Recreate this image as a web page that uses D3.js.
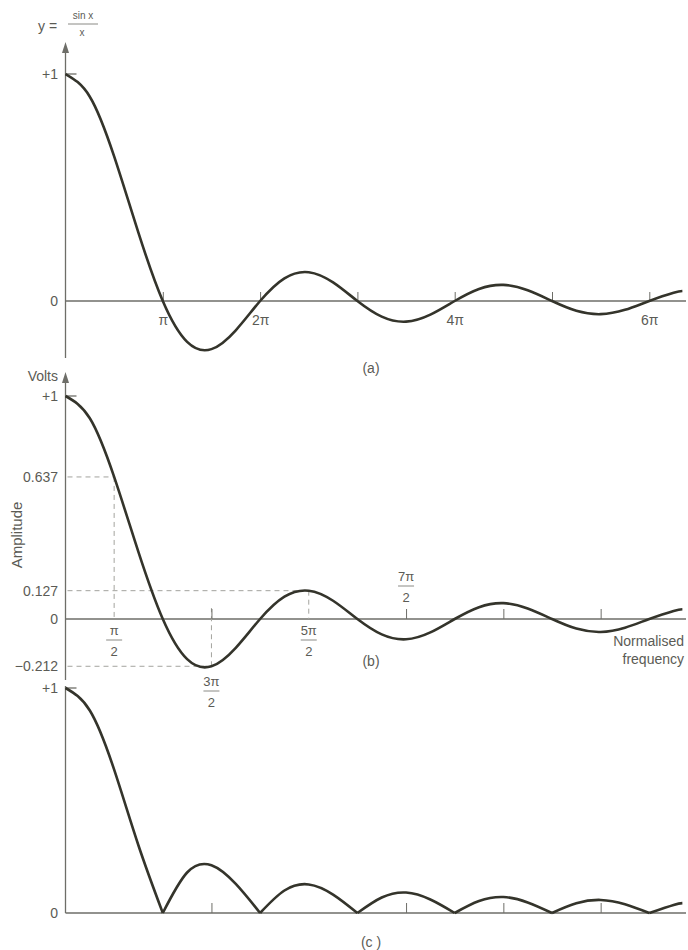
<!DOCTYPE html>
<html lang="en">
<head>
  <meta charset="UTF-8">
  <title>sin x / x</title>
  <script src="https://d3js.org/d3.v7.min.js"></script>
  <style>
    body { margin: 0; background: #fff; }
    svg text { font-family: "Liberation Sans", Arial, Helvetica, sans-serif; fill: #5b5b55; }
    .curve { fill: none; stroke: #34342b; stroke-width: 2.6; stroke-linejoin: round; }
    .axis-line { stroke: #6e6e68; stroke-width: 1.3; }
    .guide { stroke: #a3a39e; stroke-width: 1; stroke-dasharray: 5,4; }
    .tick line { stroke: #6e6e68; stroke-width: 1; }
  </style>
</head>
<body>
  <div id="chart"></div>
  <script>
    // sample positions in units of pi, and the curve values
    const xPi = [0, 0.25, 0.5, 0.75, 1, 1.25, 1.5, 1.75, 2, 2.25, 2.5, 2.75, 3,
                 3.25, 3.5, 3.75, 4, 4.25, 4.5, 4.75, 5, 5.25, 5.5, 5.75, 6, 6.25, 6.34];
    const sinc = [1.0, 0.900, 0.637, 0.300, 0, -0.180, -0.212, -0.129, 0, 0.100, 0.127, 0.082, 0,
                  -0.069, -0.091, -0.060, 0, 0.053, 0.071, 0.047, 0, -0.043, -0.058, -0.039, 0, 0.036, 0.044];
    const magnitude = [1.0, 0.900, 0.637, 0.300, 0, 0.180, 0.212, 0.129, 0, 0.100, 0.127, 0.082, 0,
                       0.069, 0.091, 0.060, 0, 0.053, 0.071, 0.047, 0, 0.043, 0.058, 0.039, 0, 0.036, 0.044];

    // axis ticks
    const piTicks = [1, 2, 3, 4, 5, 6];
    const piLabels = ["π", "2π", "", "4π", "", "6π"];
    const halfTicks = [1.5, 3.5, 4.5, 5.5];
    const yTicksB = [1, 0.637, 0.127, 0, -0.212];
    const yLabelsB = ["+1", "0.637", "0.127", "0", "−0.212"];
    const fracAt = [0.5, 1.5, 2.5, 3.5];
    const fracNum = ["π", "3π", "5π", "7π"];
    const fracDen = ["2", "2", "2", "2"];

    const W = 688, H = 950;
    const svg = d3.select("#chart").append("svg").attr("width", W).attr("height", H);

    const x = d3.scaleLinear().domain([0, 6]).range([65.5, 649.3]);
    const xEnd = 686;

    const pts = xPi.map((v, i) => ({ x: v, y: sinc[i], m: magnitude[i] }));

    function yAxisLine(top, bottom, arrow) {
      svg.append("line").attr("class", "axis-line")
        .attr("x1", x(0)).attr("x2", x(0)).attr("y1", bottom).attr("y2", top + (arrow ? 4 : 0));
      if (arrow) {
        svg.append("path")
          .attr("d", `M${x(0)},${top} L${x(0) - 3.5},${top + 11} L${x(0) + 3.5},${top + 11} Z`)
          .attr("fill", "#6e6e68");
      }
    }
    function xAxisLine(y0) {
      svg.append("line").attr("class", "axis-line")
        .attr("x1", x(0)).attr("x2", xEnd).attr("y1", y0).attr("y2", y0);
    }
    function plusOneTick(yPos) {
      svg.append("line").attr("class", "axis-line")
        .attr("x1", x(0)).attr("x2", x(0) + 11).attr("y1", yPos).attr("y2", yPos);
    }
    function leftLabel(txt, yPos) {
      svg.append("text").attr("x", 58).attr("y", yPos).attr("dy", "0.35em")
        .attr("text-anchor", "end").style("font-size", "14px").text(txt);
    }
    function caption(txt, yPos) {
      svg.append("text").attr("x", 371).attr("y", yPos).attr("dy", "0.35em")
        .attr("text-anchor", "middle").style("font-size", "14px").text(txt);
    }
    function fraction(num, den, cx, cy) {
      svg.append("text").attr("x", cx).attr("y", cy - 10).attr("dy", "0.35em")
        .attr("text-anchor", "middle").style("font-size", "13px").text(num);
      svg.append("line").attr("x1", cx - 8).attr("x2", cx + 8).attr("y1", cy).attr("y2", cy)
        .attr("stroke", "#8a8a85").attr("stroke-width", 1);
      svg.append("text").attr("x", cx).attr("y", cy + 11).attr("dy", "0.35em")
        .attr("text-anchor", "middle").style("font-size", "13px").text(den);
    }

    // ---------- (a) ----------
    const yA = d3.scaleLinear().domain([0, 1]).range([301, 74]);
    yAxisLine(42, 358, true);
    xAxisLine(yA(0));
    plusOneTick(yA(1));
    leftLabel("+1", yA(1));
    leftLabel("0", yA(0));

    svg.append("g")
      .attr("transform", `translate(0,${yA(0)})`)
      .call(d3.axisBottom(x).tickValues(piTicks).tickSizeInner(-9).tickSizeOuter(0).tickPadding(14)
        .tickFormat((d, i) => piLabels[i]))
      .call(g => g.select(".domain").remove())
      .call(g => g.selectAll("text").style("font-size", "14px").attr("fill", "#5b5b55")
        .style("font-family", "'Liberation Sans', Arial, sans-serif"));

    svg.append("path").datum(pts).attr("class", "curve")
      .attr("d", d3.line().x(d => x(d.x)).y(d => yA(d.y)).curve(d3.curveNatural));

    // formula label
    svg.append("text").attr("x", 38).attr("y", 26).attr("dy", "0.35em")
      .style("font-size", "14px").text("y =");
    svg.append("text").attr("x", 83).attr("y", 15).attr("dy", "0.35em")
      .attr("text-anchor", "middle").style("font-size", "10px").text("sin x");
    svg.append("line").attr("x1", 68).attr("x2", 98).attr("y1", 24).attr("y2", 24)
      .attr("stroke", "#8a8a85").attr("stroke-width", 1);
    svg.append("text").attr("x", 82).attr("y", 32).attr("dy", "0.35em")
      .attr("text-anchor", "middle").style("font-size", "10px").text("x");
    caption("(a)", 368);

    // ---------- (b) ----------
    const yB = d3.scaleLinear().domain([0, 1]).range([619, 396]);
    yAxisLine(372, 680, true);
    xAxisLine(yB(0));
    plusOneTick(yB(1));
    yTicksB.forEach((v, i) => leftLabel(yLabelsB[i], yB(v)));
    svg.append("text").attr("x", 58).attr("y", 376).attr("dy", "0.35em")
      .attr("text-anchor", "end").style("font-size", "14px").text("Volts");
    svg.append("text").attr("transform", `translate(17,535) rotate(-90)`)
      .attr("dy", "0.35em").attr("text-anchor", "middle")
      .style("font-size", "15px").text("Amplitude");

    // guides to the marked points
    const marks = [0.5, 2.5, 1.5];
    marks.forEach(m => {
      const p = pts.find(d => d.x === m);
      svg.append("line").attr("class", "guide")
        .attr("x1", x(0) + 2).attr("x2", x(m)).attr("y1", yB(p.y)).attr("y2", yB(p.y));
      svg.append("line").attr("class", "guide")
        .attr("x1", x(m)).attr("x2", x(m)).attr("y1", yB(p.y)).attr("y2", yB(0) - (p.y < 0 ? 11 : 0));
    });

    svg.append("g")
      .attr("transform", `translate(0,${yB(0)})`)
      .call(d3.axisBottom(x).tickValues(halfTicks).tickSizeInner(-10).tickSizeOuter(0).tickFormat(""))
      .call(g => g.select(".domain").remove());

    svg.append("path").datum(pts).attr("class", "curve")
      .attr("d", d3.line().x(d => x(d.x)).y(d => yB(d.y)).curve(d3.curveNatural));

    // fraction tick labels
    fraction(fracNum[0], fracDen[0], x(fracAt[0]), 640);
    fraction(fracNum[1], fracDen[1], x(fracAt[1]), 691);
    fraction(fracNum[2], fracDen[2], x(fracAt[2]), 640);
    fraction(fracNum[3], fracDen[3], x(fracAt[3]), 586);

    svg.append("text").attr("x", 684).attr("y", 641).attr("dy", "0.35em")
      .attr("text-anchor", "end").style("font-size", "14px").text("Normalised");
    svg.append("text").attr("x", 684).attr("y", 659).attr("dy", "0.35em")
      .attr("text-anchor", "end").style("font-size", "14px").text("frequency");
    caption("(b)", 661);

    // ---------- (c) ----------
    const yC = d3.scaleLinear().domain([0, 1]).range([913, 688]);
    yAxisLine(686, 913, false);
    xAxisLine(yC(0));
    plusOneTick(yC(1));
    leftLabel("+1", yC(1));
    leftLabel("0", yC(0));

    svg.append("g")
      .attr("transform", `translate(0,${yC(0)})`)
      .call(d3.axisBottom(x).tickValues(halfTicks).tickSizeInner(-10).tickSizeOuter(0).tickFormat(""))
      .call(g => g.select(".domain").remove());

    // each lobe drawn on its own so the zeros stay sharp
    const lobes = [];
    let cur = [];
    pts.forEach((d, i) => {
      cur.push(d);
      if (d.m === 0 && i > 0) { lobes.push(cur); cur = [d]; }
    });
    if (cur.length > 1) lobes.push(cur);

    svg.selectAll(".lobe").data(lobes).enter().append("path")
      .attr("class", "curve lobe")
      .attr("d", d3.line().x(d => x(d.x)).y(d => yC(d.m)).curve(d3.curveNatural));

    caption("(c )", 942);
  </script>
</body>
</html>
